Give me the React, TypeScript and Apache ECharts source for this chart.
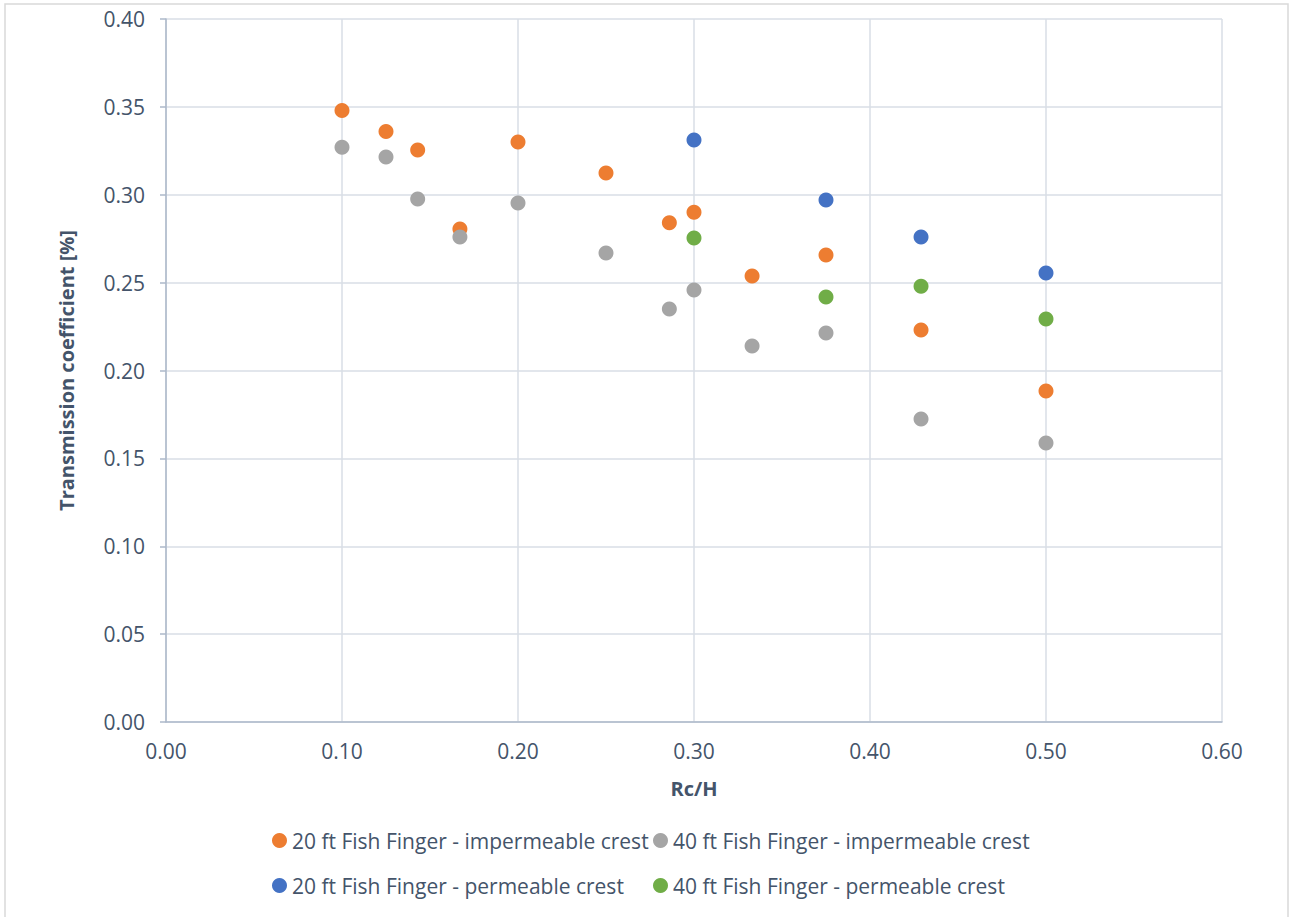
import React, { useEffect, useRef } from "react";
import * as echarts from "echarts";

// Rc/H values and transmission coefficients for each configuration
const rcH20Imp = [0.1, 0.125, 0.143, 0.167, 0.2, 0.25, 0.286, 0.3, 0.333, 0.375, 0.429, 0.5];
const kt20Imp = [0.348, 0.336, 0.3255, 0.2805, 0.33, 0.3124, 0.284, 0.29, 0.2538, 0.2657, 0.223, 0.1883];

const rcH40Imp = [0.1, 0.125, 0.143, 0.167, 0.2, 0.25, 0.286, 0.3, 0.333, 0.375, 0.429, 0.5];
const kt40Imp = [0.327, 0.3215, 0.2976, 0.276, 0.2953, 0.2669, 0.235, 0.2458, 0.214, 0.2213, 0.1724, 0.1587];

const rcH20Perm = [0.3, 0.375, 0.429, 0.5];
const kt20Perm = [0.3312, 0.297, 0.276, 0.2555];

const rcH40Perm = [0.3, 0.375, 0.429, 0.5];
const kt40Perm = [0.2754, 0.2418, 0.248, 0.2293];

const seriesNames = [
  "20 ft Fish Finger - impermeable crest",
  "40 ft Fish Finger - impermeable crest",
  "20 ft Fish Finger - permeable crest",
  "40 ft Fish Finger - permeable crest",
];
const seriesColors = ["#ED7D31", "#A5A5A5", "#4472C4", "#70AD47"];

const zip = (xs: number[], ys: number[]) => xs.map((x, i) => [x, ys[i]]);

const textColor = "#44546A";
const fontFamily = "'Open Sans', 'Noto Sans', sans-serif";

export default function App() {
  const ref = useRef<HTMLDivElement>(null);

  useEffect(() => {
    if (!ref.current) return;
    const chart = echarts.init(ref.current, undefined, { renderer: "svg" });
    const datasets = [
      zip(rcH20Imp, kt20Imp),
      zip(rcH40Imp, kt40Imp),
      zip(rcH20Perm, kt20Perm),
      zip(rcH40Perm, kt40Perm),
    ];
    const legendText = { color: textColor, fontSize: 21, fontFamily };
    const legendBase = {
      orient: "vertical",
      top: 825,
      itemGap: 24,
      itemWidth: 15,
      itemHeight: 15,
      icon: "circle",
      textStyle: legendText,
    };
    chart.setOption({
      animation: false,
      backgroundColor: "#fff",
      textStyle: { fontFamily },
      grid: { left: 166, right: 68, top: 19, bottom: 195 },
      xAxis: {
        type: "value",
        min: 0,
        max: 0.6,
        interval: 0.1,
        name: "Rc/H",
        nameLocation: "middle",
        nameGap: 56,
        nameTextStyle: { color: textColor, fontSize: 20, fontWeight: "bold", fontFamily },
        axisLine: { show: true, lineStyle: { color: "#ADB9CA", width: 1.5 } },
        axisTick: { show: false },
        axisLabel: { color: textColor, fontSize: 21, margin: 18, formatter: (v: number) => v.toFixed(2) },
        splitLine: { show: true, lineStyle: { color: "#D9DEE6", width: 1.5 } },
      },
      yAxis: {
        type: "value",
        min: 0,
        max: 0.4,
        interval: 0.05,
        name: "Transmission coefficient [%]",
        nameLocation: "middle",
        nameGap: 90,
        nameTextStyle: { color: textColor, fontSize: 20, fontWeight: "bold", fontFamily },
        axisLine: { show: true, lineStyle: { color: "#ADB9CA", width: 1.5 } },
        axisTick: { show: true, length: 6, lineStyle: { color: "#ADB9CA", width: 1.5 } },
        axisLabel: { color: textColor, fontSize: 21, margin: 21, formatter: (v: number) => v.toFixed(2) },
        splitLine: { show: true, lineStyle: { color: "#D9DEE6", width: 1.5 } },
      },
      legend: [
        { ...legendBase, left: 267, data: [seriesNames[0], seriesNames[2]] },
        { ...legendBase, left: 648, data: [seriesNames[1], seriesNames[3]] },
      ],
      graphic: [
        {
          type: "rect",
          shape: { x: 5, y: 4, width: 1283, height: 920 },
          style: { fill: "none", stroke: "#D9D9D9", lineWidth: 1.5 },
          silent: true,
        },
      ],
      series: datasets.map((d, i) => ({
        type: "scatter",
        name: seriesNames[i],
        data: d,
        symbol: "circle",
        symbolSize: 15,
        itemStyle: { color: seriesColors[i], opacity: 1 },
      })),
    });
    return () => chart.dispose();
  }, []);

  return <div ref={ref} style={{ width: 1290, height: 917, position: "absolute", left: 0, top: 0 }} />;
}
